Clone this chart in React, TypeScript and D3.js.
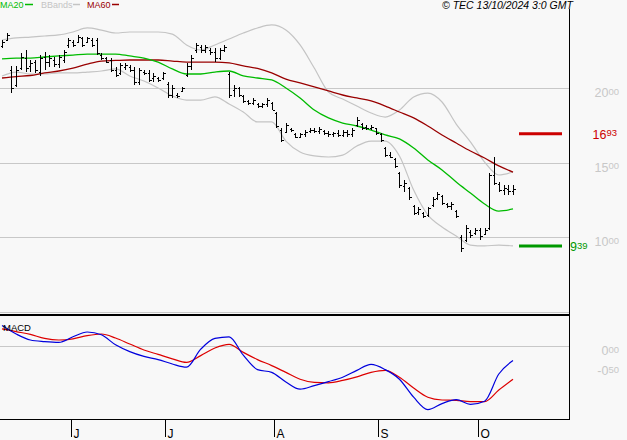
import React from 'react';
import * as d3 from 'd3';

const W = 627;
const H = 440;

// daily OHLC, mid May -> mid Oct 2024
const opens = [
  22.82, 23.22, 21.21, 20.2, 21.34, 22.01, 21.48, 21.74, 21.07, 22.08,
  21.74, 21.88, 21.61, 21.88, 22.89, 23.09, 23.09, 23.36, 23.09, 23.22,
  23.22, 22.21, 22.01, 21.88, 21.21, 21.01, 21.41, 21.41, 21.21, 20.4,
  21.07, 21.01, 20.67, 20.67, 20.67, 20.27, 19.53, 19.53, 19.8, 20.87,
  21.48, 22.55, 22.75, 22.55, 22.55, 22.42, 22.01, 22.55, 20.94, 19.87,
  20.0, 19.46, 19.13, 18.99, 18.93, 18.79, 18.93, 18.99, 18.32, 17.18,
  17.05, 17.25, 16.91, 16.71, 16.91, 17.11, 17.18, 17.11, 17.11, 16.98,
  16.91, 16.98, 16.85, 17.05, 16.91, 17.52, 17.58, 17.38, 17.32, 17.32,
  16.91, 15.97, 15.5, 15.23, 14.3, 13.42, 13.29, 12.08, 11.68, 11.61,
  11.48, 12.15, 12.62, 12.75, 12.21, 12.08, 11.75, 10.0, 9.8, 10.34,
  10.27, 10.47, 10.2, 10.6, 14.16, 13.56, 13.15, 13.22, 13.09,
];
const highs = [
  23.22, 23.69, 21.48, 21.48, 22.35, 22.55, 21.88, 21.88, 22.21, 22.42,
  22.21, 22.08, 22.21, 22.55, 23.36, 23.22, 23.56, 23.42, 23.42, 23.36,
  23.36, 22.35, 22.08, 22.01, 21.41, 21.68, 21.68, 21.54, 21.41, 21.34,
  21.21, 21.21, 21.01, 20.74, 21.07, 20.4, 20.2, 19.66, 20.07, 21.68,
  22.21, 23.02, 22.89, 22.89, 22.68, 22.68, 22.68, 22.89, 21.07, 20.2,
  20.07, 19.53, 19.19, 19.33, 18.99, 18.99, 19.33, 19.06, 18.39, 17.32,
  17.65, 17.32, 16.98, 16.98, 17.18, 17.32, 17.32, 17.38, 17.18, 17.11,
  17.05, 17.18, 17.18, 17.18, 17.32, 18.05, 17.65, 17.52, 17.52, 17.32,
  16.98, 16.04, 15.7, 15.3, 14.36, 13.83, 13.36, 12.15, 12.01, 11.68,
  12.01, 12.68, 13.02, 12.82, 12.28, 12.35, 11.81, 10.13, 10.81, 10.47,
  10.6, 10.6, 10.6, 14.3, 15.37, 13.69, 13.49, 13.49, 13.49,
];
const lows = [
  22.68, 23.15, 19.66, 20.07, 21.21, 21.07, 21.07, 21.01, 20.81, 21.21,
  21.41, 21.41, 21.34, 21.68, 22.68, 22.75, 23.02, 22.75, 23.02, 22.75,
  22.21, 21.88, 21.68, 21.07, 20.74, 20.87, 21.21, 21.07, 20.2, 20.2,
  20.87, 20.4, 20.4, 20.4, 20.54, 19.33, 19.33, 19.33, 19.73, 20.74,
  21.21, 22.35, 22.35, 22.35, 22.21, 21.74, 21.88, 22.42, 19.33, 19.4,
  19.4, 18.99, 18.86, 18.86, 18.66, 18.66, 18.72, 18.52, 17.32, 16.38,
  16.98, 17.05, 16.64, 16.64, 16.71, 16.98, 16.98, 16.91, 16.85, 16.71,
  16.71, 16.71, 16.71, 16.71, 16.71, 17.38, 17.18, 17.18, 17.18, 16.85,
  16.38, 15.37, 15.3, 14.63, 13.29, 13.02, 12.48, 11.48, 11.48, 11.28,
  11.34, 12.01, 12.48, 12.15, 11.95, 11.81, 11.28, 8.99, 9.66, 9.93,
  10.13, 9.8, 10.13, 10.47, 13.49, 13.02, 12.82, 12.82, 12.82,
];
const closes = [
  23.09, 23.56, 20.0, 21.21, 22.08, 21.34, 21.68, 21.21, 22.01, 21.74,
  22.01, 21.61, 22.08, 22.42, 23.22, 22.89, 23.42, 22.89, 23.36, 22.89,
  22.35, 22.01, 21.74, 21.21, 20.87, 21.54, 21.54, 21.21, 20.4, 21.21,
  21.01, 20.54, 20.81, 20.54, 21.01, 19.53, 20.0, 19.46, 20.0, 21.48,
  22.01, 22.89, 22.55, 22.75, 22.42, 22.01, 22.55, 22.75, 19.53, 20.0,
  19.53, 19.13, 18.99, 19.19, 18.79, 18.93, 19.19, 18.52, 17.45, 16.51,
  17.52, 17.18, 16.71, 16.91, 17.05, 17.18, 17.11, 17.25, 16.98, 16.91,
  16.98, 16.85, 17.05, 16.91, 17.18, 17.85, 17.32, 17.32, 17.38, 16.98,
  16.51, 15.5, 15.37, 14.77, 13.49, 13.62, 12.68, 11.61, 11.88, 11.41,
  11.95, 12.55, 12.89, 12.28, 12.08, 12.21, 11.41, 9.26, 10.6, 10.13,
  10.47, 10.07, 10.47, 14.16, 13.62, 13.15, 13.29, 13.09, 13.22,
];

// indicator values read at every third bar
const sampleIdx = [
  0, 3, 6, 9, 12, 15, 18, 21, 24, 27, 30, 33, 36, 39, 42, 45, 48, 51, 54,
  57, 60, 63, 66, 69, 72, 75, 78, 81, 84, 87, 90, 93, 96, 99, 102, 105, 108,
];
const ma20 = [
  21.95, 22.01, 22.01, 22.08, 22.15, 22.21, 22.28, 22.28, 22.28, 22.15,
  22.01, 21.74, 21.28, 20.94, 20.94, 21.07, 21.14, 20.81, 20.67, 20.54,
  20.0, 19.33, 18.52, 17.99, 17.65, 17.45, 17.18, 16.85, 16.58, 15.97,
  15.17, 14.5, 13.69, 12.95, 12.21, 11.74, 11.88,
];
const ma60 = [
  20.67, 20.77, 20.84, 21.01, 21.14, 21.34, 21.61, 21.81, 21.85, 21.88,
  21.88, 21.88, 21.81, 21.74, 21.74, 21.74, 21.68, 21.48, 21.31, 21.01,
  20.6, 20.34, 20.07, 19.8, 19.53, 19.33, 19.13, 18.79, 18.39, 17.99,
  17.45, 16.85, 16.31, 15.77, 15.3, 14.77, 14.36,
];
const bbUpper = [
  23.22, 23.36, 23.42, 23.49, 23.56, 23.76, 24.03, 23.89, 23.69, 23.76,
  23.76, 23.76, 23.62, 22.89, 22.55, 22.89, 23.29, 23.69, 24.03, 24.23,
  23.89, 22.89, 21.34, 19.73, 19.26, 18.79, 18.32, 18.05, 18.52, 19.4,
  19.66, 19.06, 17.58, 16.38, 15.03, 14.16, 14.36,
];
const bbLower = [
  20.81, 21.07, 20.94, 20.94, 21.01, 21.01, 21.07, 21.14, 21.28, 20.81,
  20.47, 20.0, 19.46, 19.19, 19.19, 19.4, 18.93, 18.39, 17.72, 17.72,
  16.44, 15.7, 15.44, 15.37, 15.5, 16.11, 16.44, 16.44, 15.44, 13.15,
  11.48, 10.67, 10.07, 9.46, 9.4, 9.46, 9.4,
];
const macd = [
  0.51, 0.3, 0.15, 0.11, 0.09, 0.23, 0.35, 0.28, 0.03, -0.14,
  -0.26, -0.34, -0.45, -0.53, -0.08, 0.19, 0.23, -0.23, -0.59, -0.66,
  -0.9, -1.08, -0.99, -0.89, -0.78, -0.61, -0.46, -0.59, -0.83, -1.28,
  -1.59, -1.44, -1.34, -1.46, -1.38, -0.7, -0.36,
];
const signal = [
  0.43, 0.36, 0.29, 0.19, 0.15, 0.18, 0.26, 0.3, 0.2, 0.05,
  -0.1, -0.21, -0.32, -0.41, -0.24, -0.05, 0.04, -0.16, -0.34, -0.49,
  -0.66, -0.83, -0.91, -0.92, -0.86, -0.77, -0.66, -0.61, -0.78, -1.05,
  -1.28, -1.35, -1.36, -1.39, -1.39, -1.1, -0.83,
];

const monthStart = [15, 35, 58, 80, 101];
const monthLabels = ['J', 'J', 'A', 'S', 'O'];
const priceTicks = [20, 15, 10];
const macdTicks = [0, -0.5];
const resistance = 16.93;
const support = 9.39;

const FONT = '"Liberation Sans", Arial, sans-serif';
const GRID = '#c8c8c8';

const xs = d3.scaleLinear().domain([0, opens.length - 1]).range([2, 513]);
const yp = d3.scaleLinear().domain([10, 20]).range([237, 88]);
const ym = d3.scaleLinear().domain([0, -0.5]).range([346, 366]);

const px = (v: number) => Math.round(v) + 0.5;

function lineOf(vals: number[], y: (v: number) => number) {
  return d3
    .line<number>()
    .x((_, k) => xs(sampleIdx[k]))
    .y((v) => y(v))
    .curve(d3.curveMonotoneX)(vals) as string;
}

// "20.00" drawn as 20 with a small raised 00
function NumLabel({ x, y, value, fill, anchor = 'end' }: { x: number; y: number; value: number; fill: string; anchor?: string }) {
  const [a, b] = value.toFixed(2).split('.');
  return (
    <text x={x} y={y} fill={fill} fontSize={12.5} textAnchor={anchor} fontFamily={FONT}>
      <tspan>{a}</tspan>
      <tspan fontSize={9.5} dy={-2.5}>{b}</tspan>
    </text>
  );
}

export default function App() {
  return (
    <div style={{ position: 'absolute', left: 0, top: 0 }}>
      <svg width={W} height={H} style={{ display: 'block', background: '#f8f8f8' }}>
        {/* grid */}
        {priceTicks.map((t) => (
          <line key={'g' + t} x1={0} x2={569} y1={px(yp(t))} y2={px(yp(t))} stroke={GRID} />
        ))}
        <line x1={0} x2={569} y1={px(ym(0))} y2={px(ym(0))} stroke={GRID} />

        {/* bollinger bands */}
        <path d={lineOf(bbUpper, yp)} fill="none" stroke="#c4c4c4" strokeWidth={1.2} />
        <path d={lineOf(bbLower, yp)} fill="none" stroke="#c4c4c4" strokeWidth={1.2} />

        {/* moving averages */}
        <path d={lineOf(ma60, yp)} fill="none" stroke="#990000" strokeWidth={1.3} />
        <path d={lineOf(ma20, yp)} fill="none" stroke="#00bb00" strokeWidth={1.3} />

        {/* OHLC bars */}
        <g stroke="#000" shapeRendering="crispEdges">
          {opens.map((o, i) => {
            const x = px(xs(i));
            return (
              <g key={i}>
                <line x1={x} x2={x} y1={yp(highs[i])} y2={yp(lows[i])} />
                <line x1={x - 2} x2={x} y1={px(yp(o))} y2={px(yp(o))} />
                <line x1={x} x2={x + 2} y1={px(yp(closes[i]))} y2={px(yp(closes[i]))} />
              </g>
            );
          })}
        </g>

        {/* level lines */}
        <line x1={519} x2={562} y1={yp(resistance)} y2={yp(resistance)} stroke="#cc0000" strokeWidth={3} />
        <line x1={519} x2={562} y1={yp(support)} y2={yp(support)} stroke="#009900" strokeWidth={3} />
        <NumLabel x={617} y={yp(resistance) + 5} value={resistance} fill="#cc0000" />
        <NumLabel x={570} y={yp(support) + 5} value={support} fill="#009900" anchor="start" />

        {/* price axis labels */}
        {priceTicks.map((t) => (
          <NumLabel key={'p' + t} x={619} y={yp(t) + 9} value={t} fill={GRID} />
        ))}
        {macdTicks.map((t) => (
          <NumLabel key={'m' + t} x={619} y={ym(t) + 9} value={t} fill={GRID} />
        ))}

        {/* panel separators */}
        <line x1={0} x2={569} y1={312.5} y2={312.5} stroke={GRID} />
        <rect x={0} y={314} width={570} height={2} fill="#000" />
        <line x1={569.5} x2={569.5} y1={9} y2={419} stroke="#000" />
        <line x1={0} x2={570} y1={419.5} y2={419.5} stroke="#000" />

        {/* MACD */}
        <path d={lineOf(signal, ym)} fill="none" stroke="#dd0000" strokeWidth={1.2} />
        <path d={lineOf(macd, ym)} fill="none" stroke="#0000dd" strokeWidth={1.2} />
        <text x={3} y={331} fontSize={9.5} fontFamily={FONT} fill="#000">MACD</text>

        {/* month ticks */}
        {monthStart.map((m, k) => {
          const x = px(xs(m - 0.5));
          return (
            <g key={'t' + k}>
              <line x1={x} x2={x} y1={420} y2={437} stroke="#000" />
              <text x={x + 2} y={438} fontSize={12} fontFamily={FONT} fill="#000">{monthLabels[k]}</text>
            </g>
          );
        })}

        {/* legend */}
        <g fontFamily={FONT} fontSize={9}>
          <text x={0} y={8} fill="#00bb00">MA20</text>
          <line x1={25} x2={33} y1={4.5} y2={4.5} stroke="#00bb00" strokeWidth={1.5} />
          <text x={41} y={8} fill="#c4c4c4">BBands</text>
          <line x1={73} x2={80} y1={4.5} y2={4.5} stroke="#c4c4c4" strokeWidth={1.5} />
          <text x={87} y={8} fill="#990000">MA60</text>
          <line x1={112} x2={119} y1={4.5} y2={4.5} stroke="#990000" strokeWidth={1.5} />
        </g>
        <text x={442} y={9} fontSize={10.5} fontStyle="italic" fontFamily={FONT} fill="#000">
          © TEC 13/10/2024 3:0 GMT
        </text>
      </svg>
    </div>
  );
}
